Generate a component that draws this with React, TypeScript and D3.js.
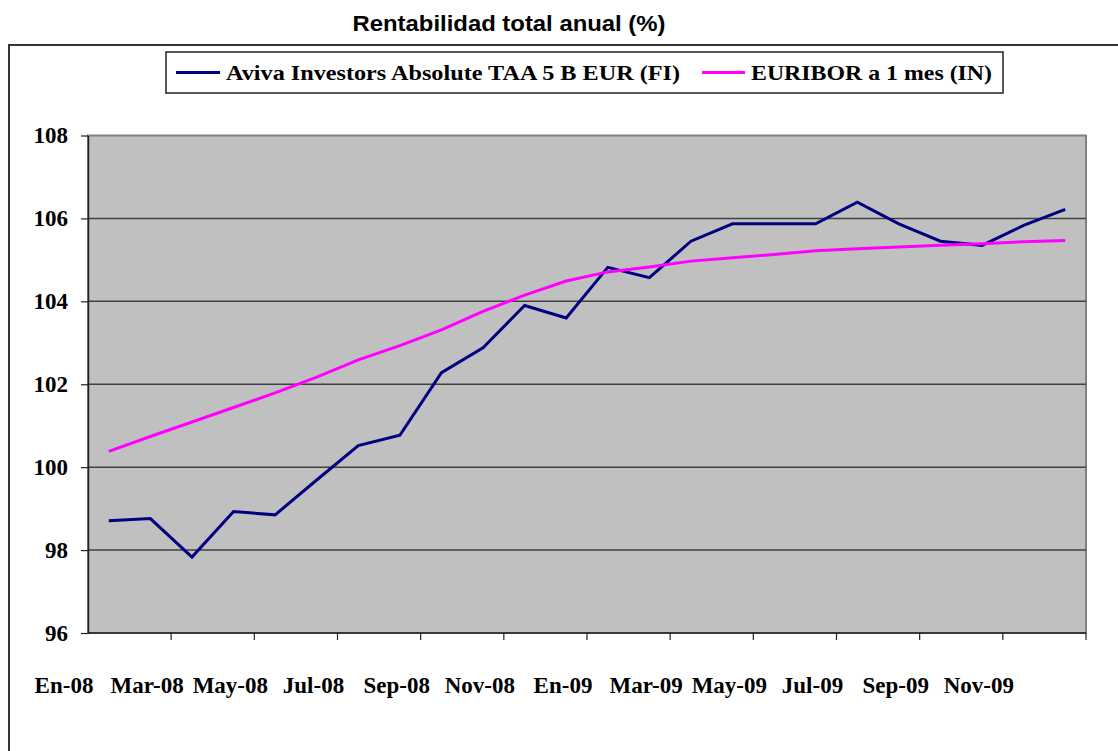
import React, { useRef, useEffect } from 'react';
import * as d3 from 'd3';

const months = [
  'En-08', 'Feb-08', 'Mar-08', 'Abr-08', 'May-08', 'Jun-08', 'Jul-08', 'Ago-08', 'Sep-08', 'Oct-08', 'Nov-08', 'Dic-08',
  'En-09', 'Feb-09', 'Mar-09', 'Abr-09', 'May-09', 'Jun-09', 'Jul-09', 'Ago-09', 'Sep-09', 'Oct-09', 'Nov-09', 'Dic-09',
];
const aviva = [
  98.71, 98.76, 97.83, 98.93, 98.85, 99.69, 100.52, 100.77, 102.28, 102.88, 103.9, 103.6,
  104.82, 104.57, 105.45, 105.87, 105.87, 105.87, 106.39, 105.87, 105.45, 105.35, 105.83, 106.22,
];
const euribor = [
  100.38, 100.74, 101.09, 101.44, 101.79, 102.17, 102.59, 102.93, 103.31, 103.76, 104.15, 104.49,
  104.71, 104.83, 104.97, 105.05, 105.13, 105.22, 105.27, 105.31, 105.35, 105.39, 105.44, 105.47,
];
const yTicks = [96, 98, 100, 102, 104, 106, 108];
const seriesNames = ['Aviva Investors Absolute TAA 5 B EUR (FI)', 'EURIBOR a 1 mes (IN)'];
const seriesColors = ['#000080', '#ff00ff'];

const App = () => {
  const svgRef = useRef<SVGSVGElement>(null);

  useEffect(() => {
    const svg = d3.select(svgRef.current);
    svg.selectAll('*').remove();

    const left = 88, right = 1086, top = 135.5, bottom = 633;
    const x = d3.scaleBand<string>().domain(months).range([left, right]);
    const y = d3.scaleLinear().domain([96, 108]).range([bottom, top]);
    const cx = (m: string) => (x(m) as number) + x.bandwidth() / 2;

    // marco exterior
    svg.append('rect')
      .attr('x', 9).attr('y', 45).attr('width', 1200).attr('height', 800)
      .attr('fill', '#fff').attr('stroke', '#333').attr('stroke-width', 2);

    // titulo
    svg.append('text')
      .attr('x', 509).attr('y', 31)
      .attr('text-anchor', 'middle')
      .attr('font-family', 'Liberation Sans, Arial, sans-serif')
      .attr('font-weight', 'bold').attr('font-size', 22)
      .attr('textLength', 313).attr('lengthAdjust', 'spacingAndGlyphs')
      .text('Rentabilidad total anual (%)');

    // area de trazado
    svg.append('rect')
      .attr('x', left).attr('y', top).attr('width', right - left).attr('height', bottom - top)
      .attr('fill', '#c0c0c0').attr('stroke', '#808080').attr('stroke-width', 2);

    // lineas de division
    svg.append('g').selectAll('line')
      .data(yTicks.filter(t => t > 96 && t < 108))
      .join('line')
      .attr('x1', left).attr('x2', right)
      .attr('y1', d => y(d)).attr('y2', d => y(d))
      .attr('stroke', '#404040').attr('stroke-width', 1.5);

    // eje y
    const yAxis = d3.axisLeft(y).tickValues(yTicks).tickSize(7).tickSizeOuter(0).tickPadding(13);
    const gy = svg.append('g').attr('transform', `translate(${left},0)`).call(yAxis);
    gy.select('.domain').attr('stroke', '#222').attr('stroke-width', 1.5);
    gy.selectAll('.tick line').attr('stroke', '#222').attr('stroke-width', 1.2);
    gy.selectAll('.tick text')
      .attr('font-family', 'Liberation Serif, Times New Roman, serif')
      .attr('font-weight', 'bold').attr('font-size', 23).attr('fill', '#000');

    // eje x
    const tickMonths = months.filter((_, i) => i % 2 === 0);
    const gx = svg.append('g');
    gx.append('line')
      .attr('x1', left).attr('x2', right).attr('y1', bottom).attr('y2', bottom)
      .attr('stroke', '#222').attr('stroke-width', 1.5);
    gx.selectAll('line.tk')
      .data([...tickMonths.slice(1), null])
      .join('line')
      .attr('class', 'tk')
      .attr('x1', d => (d ? (x(d) as number) : right))
      .attr('x2', d => (d ? (x(d) as number) : right))
      .attr('y1', bottom).attr('y2', bottom + 7)
      .attr('stroke', '#222').attr('stroke-width', 1.2);
    gx.selectAll('text')
      .data(tickMonths)
      .join('text')
      .attr('x', d => (x(d) as number) - 24)
      .attr('y', 693)
      .attr('text-anchor', 'middle')
      .attr('font-family', 'Liberation Serif, Times New Roman, serif')
      .attr('font-weight', 'bold').attr('font-size', 23)
      .text(d => d);

    // series
    const line = d3.line<number>()
      .x((_, i) => cx(months[i]))
      .y(d => y(d));
    [aviva, euribor].forEach((s, k) => {
      svg.append('path')
        .datum(s)
        .attr('d', line)
        .attr('fill', 'none')
        .attr('stroke', seriesColors[k])
        .attr('stroke-width', 3)
        .attr('stroke-linejoin', 'miter');
    });

    // leyenda
    const lg = svg.append('g');
    lg.append('rect')
      .attr('x', 166).attr('y', 52).attr('width', 837).attr('height', 41)
      .attr('fill', '#fff').attr('stroke', '#222').attr('stroke-width', 1.5);
    const items = [
      { x0: 176, x1: 220, tx: 226, len: 454 },
      { x0: 702, x1: 745, tx: 751, len: 241 },
    ];
    items.forEach((it, k) => {
      lg.append('line')
        .attr('x1', it.x0).attr('x2', it.x1).attr('y1', 72.5).attr('y2', 72.5)
        .attr('stroke', seriesColors[k]).attr('stroke-width', 3);
      lg.append('text')
        .attr('x', it.tx).attr('y', 79.5)
        .attr('font-family', 'Liberation Serif, Times New Roman, serif')
        .attr('font-weight', 'bold').attr('font-size', 21)
        .attr('textLength', it.len).attr('lengthAdjust', 'spacingAndGlyphs')
        .text(seriesNames[k]);
    });
  }, []);

  return (
    <svg
      ref={svgRef}
      width={1118}
      height={751}
      style={{ position: 'absolute', left: 0, top: 0, background: '#fff' }}
    />
  );
};

export default App;
